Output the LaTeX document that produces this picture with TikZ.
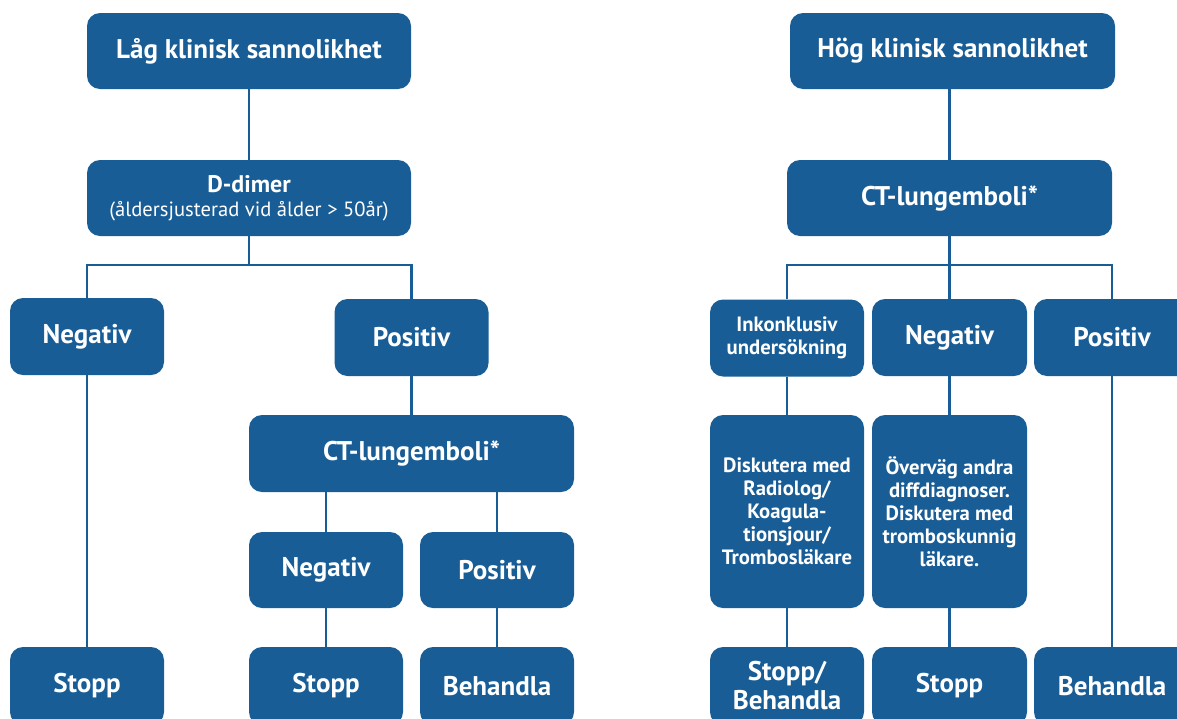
\documentclass[tikz,border=0pt]{standalone}
\usepackage{fontspec}
\setmainfont{PT Sans}
\definecolor{boxblue}{RGB}{25,93,150}
\tikzset{
  fbox/.style={fill=boxblue, rounded corners=13pt, text=white, font=\bfseries\fontsize{27}{30}\selectfont, align=center, inner sep=0pt},
  smalltext/.style={font=\bfseries\fontsize{20.7}{23}\selectfont},
  conn/.style={draw=boxblue, line width=2.8pt}
}
\begin{document}
\begin{tikzpicture}[x=1pt,y=-1pt]
\useasboundingbox (0,0) rectangle (1177,718);
\clip (0,0) rectangle (1177,718);
% left tree
\node[fbox, minimum width=324pt, minimum height=76pt] (low) at (249,51) {Låg klinisk sannolikhet};
\node[fbox, minimum width=324pt, minimum height=76pt, font=\bfseries\fontsize{24}{27}\selectfont] (dd) at (249,198) {D-dimer\\[-3pt]{\mdseries\fontsize{20.6}{23}\selectfont (åldersjusterad vid ålder > 50år)}};
\node[fbox, minimum width=154pt, minimum height=77pt] (lneg) at (87,336.5) {Negativ};
\node[fbox, minimum width=154pt, minimum height=77pt] (lpos) at (411.5,337.5) {Positiv};
\node[fbox, minimum width=325pt, minimum height=77pt] (lct) at (411.5,453.5) {CT-lungemboli*};
\node[fbox, minimum width=154pt, minimum height=76pt] (lneg2) at (326,570) {Negativ};
\node[fbox, minimum width=154pt, minimum height=76pt] (lpos2) at (497,570) {Positiv};
\node[fbox, minimum width=154pt, minimum height=78pt] (lstop) at (87,686) {Stopp};
\node[fbox, minimum width=154pt, minimum height=78pt] (lstop2) at (326,686) {Stopp};
\node[fbox, minimum width=154pt, minimum height=78pt] (lbeh) at (497,686) {Behandla};
% right tree
\node[fbox, minimum width=325pt, minimum height=76pt] (high) at (952.5,51) {Hög klinisk sannolikhet};
\node[fbox, minimum width=325pt, minimum height=76pt] (rct) at (949.5,198) {CT-lungemboli*};
\node[fbox, smalltext, minimum width=154pt, minimum height=77pt] (rink) at (787,338) {Inkonklusiv\\undersökning};
\node[fbox, minimum width=155pt, minimum height=77pt] (rneg) at (949.5,337.5) {Negativ};
\node[fbox, minimum width=156pt, minimum height=77pt] (rpos) at (1112,337.5) {Positiv};
\node[fbox, smalltext, minimum width=154pt, minimum height=193pt] (rdisk) at (787,511.5) {Diskutera med\\Radiolog/\\Koagula-\\tionsjour/\\Trombosläkare};
\node[fbox, smalltext, minimum width=155pt, minimum height=193pt] (rovv) at (949.5,511.5) {Överväg andra\\diffdiagnoser.\\Diskutera med\\tromboskunnig\\läkare.};
\node[fbox, minimum width=154pt, minimum height=78pt, font=\bfseries\fontsize{27}{29}\selectfont] (rsb) at (787,686) {Stopp/\\Behandla};
\node[fbox, minimum width=155pt, minimum height=78pt] (rstop) at (949.5,686) {Stopp};
\node[fbox, minimum width=156pt, minimum height=78pt] (rbeh) at (1112,686) {Behandla};
% connectors left
\coordinate (lj) at (249,265);
\draw[conn] (low) -- (dd);
\draw[conn] (dd) -- (lj);
\draw[conn] (lneg.north) -- (lneg.north |- lj) -- (lpos.north |- lj) -- (lpos.north);
\draw[conn] (lneg) -- (lstop);
\draw[conn] (lpos) -- (lct);
\draw[conn] (lneg2.north) -- (lneg2.north |- lct.south);
\draw[conn] (lpos2.north) -- (lpos2.north |- lct.south);
\draw[conn] (lneg2) -- (lstop2);
\draw[conn] (lpos2) -- (lbeh);
% connectors right
\coordinate (rj) at (949.5,265);
\draw[conn] (rct.north) -- (rct.north |- high.south);
\draw[conn] (rct) -- (rj);
\draw[conn] (rink.north) -- (rink.north |- rj) -- (rpos.north |- rj) -- (rpos.north);
\draw[conn] (rj) -- (rneg.north);
\draw[conn] (rink) -- (rdisk);
\draw[conn] (rneg) -- (rovv);
\draw[conn] (rdisk) -- (rsb);
\draw[conn] (rovv) -- (rstop);
\draw[conn] (rpos) -- (rbeh);
\end{tikzpicture}
\end{document}
